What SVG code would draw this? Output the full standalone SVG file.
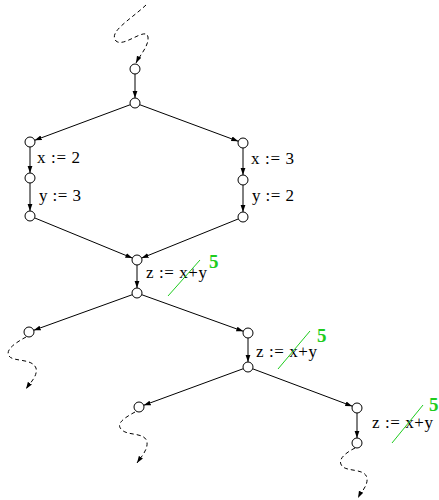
<svg xmlns="http://www.w3.org/2000/svg" width="439" height="500" viewBox="0 0 439 500">
<defs>
<marker id="ah" markerWidth="8" markerHeight="6" refX="7" refY="3" orient="auto" markerUnits="userSpaceOnUse">
<path d="M0,0.6 L7,3 L0,5.4 Z" fill="#000"/>
</marker>
<style>
.e{stroke:#000;stroke-width:1;fill:none;marker-end:url(#ah)}
.d{stroke:#000;stroke-width:1;fill:none;stroke-dasharray:4,3;marker-end:url(#ah)}
.n{fill:#fff;stroke:#000;stroke-width:1}
.t{font-family:"Liberation Serif","Times New Roman",serif;font-size:17px;fill:#000}
.g{stroke:#1ecc1e;stroke-width:1;fill:none}
.f{font-family:"Liberation Serif","Times New Roman",serif;font-size:19px;font-weight:bold;fill:#1ecc1e}
</style>
</defs>
<g id="connectors">
<path class="d" d="M146,5 C130,20 108,32 116,41 C124,48 146,26 148,37 C149,46 140,55 136,63"/>
<line class="e" x1="135" y1="74" x2="135" y2="98"/>
<line class="e" x1="130.3" y1="104.7" x2="34.7" y2="140.3"/>
<line class="e" x1="139.7" y1="104.7" x2="238.3" y2="141.3"/>
<line class="e" x1="30" y1="147" x2="30" y2="173"/>
<line class="e" x1="30" y1="183" x2="30" y2="211"/>
<line class="e" x1="243" y1="148" x2="243" y2="175"/>
<line class="e" x1="243" y1="185" x2="243" y2="212"/>
<line class="e" x1="34.6" y1="217.9" x2="132.4" y2="258.1"/>
<line class="e" x1="238.4" y1="218.9" x2="141.6" y2="258.1"/>
<line class="e" x1="137" y1="265" x2="137" y2="288"/>
<line class="e" x1="132.3" y1="294.7" x2="33.7" y2="330.3"/>
<line class="e" x1="141.7" y1="294.7" x2="243.3" y2="331.3"/>
<line class="e" x1="248" y1="338" x2="248" y2="362"/>
<line class="e" x1="243.3" y1="368.7" x2="143.7" y2="405.3"/>
<line class="e" x1="252.7" y1="368.8" x2="352.3" y2="406.2"/>
<line class="e" x1="357" y1="413" x2="357" y2="438"/>
<path class="d" d="M26,337 C15,343 5,350 9,356 C13,362 32,358 36,368 C38,376 30,383 26,389"/>
<path class="d" d="M135,412 C124,418 115,424 122,430 C128,436 145,432 147,442 C148,450 141,457 137,463"/>
<path class="d" d="M355,448 C345,453 337,460 342,466 C347,472 365,468 367,478 C368,486 361,492 358,498"/>
</g>
<g id="nA"><circle class="n" cx="135" cy="69" r="5"/></g>
<g id="nB"><circle class="n" cx="135" cy="103" r="5"/></g>
<g id="nL1"><circle class="n" cx="30" cy="142" r="5"/><text class="t" x="37" y="163" textLength="43" lengthAdjust="spacing">x := 2</text></g>
<g id="nL2"><circle class="n" cx="30" cy="178" r="5"/><text class="t" x="39" y="201" textLength="42" lengthAdjust="spacing">y := 3</text></g>
<g id="nL3"><circle class="n" cx="30" cy="216" r="5"/></g>
<g id="nR1"><circle class="n" cx="243" cy="143" r="5"/><text class="t" x="251" y="164" textLength="43" lengthAdjust="spacing">x := 3</text></g>
<g id="nR2"><circle class="n" cx="243" cy="180" r="5"/><text class="t" x="252" y="201" textLength="42" lengthAdjust="spacing">y := 2</text></g>
<g id="nR3"><circle class="n" cx="243" cy="217" r="5"/></g>
<g id="nJ1"><circle class="n" cx="137" cy="260" r="5"/><text class="t" x="146" y="278" textLength="61" lengthAdjust="spacing">z := x+y</text><line class="g" x1="168" y1="296" x2="200" y2="260"/><text class="f" x="209" y="268">5</text></g>
<g id="nJ2"><circle class="n" cx="137" cy="293" r="5"/></g>
<g id="nC"><circle class="n" cx="29" cy="332" r="5"/></g>
<g id="nD1"><circle class="n" cx="248" cy="333" r="5"/><text class="t" x="256" y="357" textLength="61" lengthAdjust="spacing">z := x+y</text><line class="g" x1="278" y1="369" x2="310" y2="331"/><text class="f" x="317" y="342">5</text></g>
<g id="nD2"><circle class="n" cx="248" cy="367" r="5"/></g>
<g id="nE"><circle class="n" cx="139" cy="407" r="5"/></g>
<g id="nF1"><circle class="n" cx="357" cy="408" r="5"/><text class="t" x="372" y="428" textLength="61" lengthAdjust="spacing">z := x+y</text><line class="g" x1="392" y1="443" x2="423" y2="405"/><text class="f" x="429" y="411">5</text></g>
<g id="nF2"><circle class="n" cx="357" cy="443" r="5"/></g>
</svg>
